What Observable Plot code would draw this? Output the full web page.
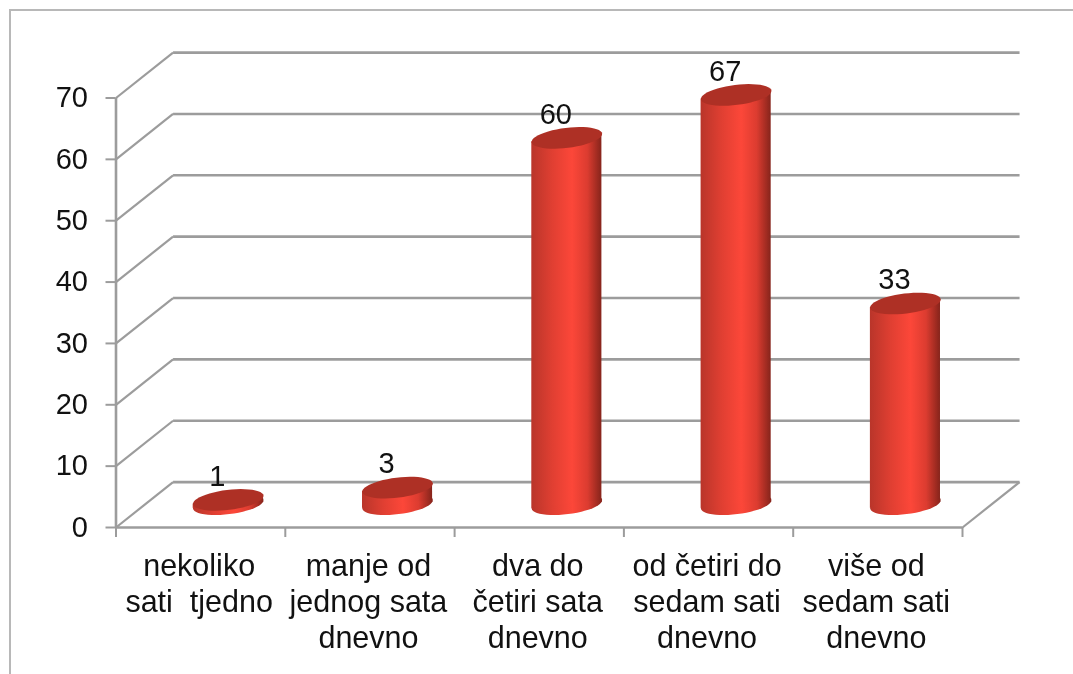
<!DOCTYPE html>
<html>
<head>
<meta charset="utf-8">
<script src="https://cdn.jsdelivr.net/npm/d3@7"></script>
<script src="https://cdn.jsdelivr.net/npm/@observablehq/plot@0.6"></script>
<style>
html,body{margin:0;padding:0;background:#fff;width:1073px;height:674px;overflow:hidden}
#frame{position:absolute;left:9px;top:9px;width:1064px;height:665px;border-left:2px solid #b8b8b8;border-top:2px solid #b8b8b8;box-sizing:border-box}
#chart{position:absolute;left:0;top:0}
#chart text{white-space:pre}
#chart svg{filter:blur(0.45px)}
</style>
</head>
<body>
<div id="frame"></div>
<div id="chart"></div>
<script>
const categories = [
  "nekoliko\nsati  tjedno",
  "manje od\njednog sata\ndnevno",
  "dva do\nčetiri sata\ndnevno",
  "od četiri do\nsedam sati\ndnevno",
  "više od\nsedam sati\ndnevno"
];
const values = [1, 3, 60, 67, 33];
const valueTicks = [0, 10, 20, 30, 40, 50, 60, 70];
const categoryEdges = [0, 1, 2, 3, 4, 5];

// Oblique projection of the chart's depth, in units of the two scales
const depthX = 0.337, depthY = 7.4;
const barHalf = 0.207, barOffset = 0.163;
const baseLift = 3.8, topLift = 3.5, tilt = 0.65;

const bars = values.map((v, i) => ({i, v, x: i + 0.5 + barOffset, base: baseLift, top: v + topLift}));
const sides = bars.flatMap(b => [
  {i: b.i, x: b.x - barHalf, y1: b.base - tilt, y2: b.top - tilt},
  {i: b.i, x: b.x + barHalf, y1: b.base + tilt, y2: b.top + tilt}
]);
const labelRows = values.map((v, i) => ({v, x: i + 0.5 + barOffset}));

const ellipse = {
  draw(ctx) {
    const a = 35.5, b = 10, t = -7 * Math.PI / 180;
    for (let k = 0; k < 48; ++k) {
      const u = k / 48 * 2 * Math.PI;
      const ex = a * Math.cos(u), ey = b * Math.sin(u);
      const px = ex * Math.cos(t) - ey * Math.sin(t);
      const py = ex * Math.sin(t) + ey * Math.cos(t);
      k ? ctx.lineTo(px, py) : ctx.moveTo(px, py);
    }
    ctx.closePath();
  }
};

const gridColor = "#9c9c9c";
const font = "'Liberation Sans', Arial, sans-serif";

const defs = () => {
  const s = d3.create("svg:defs");
  const g = s.append("linearGradient").attr("id", "cyl").attr("x1", 0).attr("x2", 1).attr("y1", 0).attr("y2", 0);
  [[0, "#b9352a"], [0.3, "#e03f32"], [0.58, "#fc4739"], [0.8, "#dc3c30"], [1, "#86241b"]]
    .forEach(([o, c]) => g.append("stop").attr("offset", o).attr("stop-color", c));
  return s.node();
};

const plot = Plot.plot({
  width: 1073,
  height: 674,
  marginLeft: 115.5,
  marginRight: 111,
  marginTop: 97.5,
  marginBottom: 147,
  style: {fontFamily: font, background: "transparent", overflow: "visible"},
  x: {domain: [0, 5]},
  y: {domain: [0, 70]},
  marks: [
    defs,
    // back wall grid
    Plot.link(valueTicks, {x1: depthX, x2: 5 + depthX, y1: v => v + depthY, y2: v => v + depthY, stroke: gridColor, strokeWidth: 2.6}),
    // side wall diagonals
    Plot.link(valueTicks, {x1: 0, x2: depthX, y1: v => v, y2: v => v + depthY, stroke: gridColor, strokeWidth: 2.2}),
    // floor right edge
    Plot.link([0], {x1: 5, x2: 5 + depthX, y1: 0, y2: depthY, stroke: gridColor, strokeWidth: 2.2}),
    // axes
    Plot.ruleX([0], {y1: 0, y2: 70, stroke: gridColor, strokeWidth: 2.6}),
    Plot.ruleY([0], {x1: 0, x2: 5, stroke: gridColor, strokeWidth: 2.6}),
    Plot.axisY(valueTicks, {anchor: "left", label: null, tickSize: 10, tickPadding: 18, fontSize: 29, stroke: gridColor, strokeWidth: 2, color: "#111"}),
    Plot.axisX(categoryEdges, {anchor: "bottom", label: null, tickSize: 10, tickFormat: () => "", stroke: gridColor, strokeWidth: 2}),
    // category labels
    Plot.text(categories, {x: (d, i) => i + 0.5, y: 0, text: d => d, dy: 23, dx: -1.5, lineAnchor: "top", lineHeight: 1.18, fontSize: 30.5, fill: "#111"}),
    // cylinders
    Plot.dot(bars, {x: "x", y: "base", symbol: ellipse, r: 1, fill: "url(#cyl)", stroke: "none"}),
    Plot.area(sides, {x1: "x", y1: "y1", y2: "y2", z: "i", fill: "url(#cyl)", curve: "linear"}),
    Plot.dot(bars, {x: "x", y: "top", symbol: ellipse, r: 1, fill: "#ae3025", stroke: "none"}),
    // value labels
    Plot.text(labelRows, {x: "x", y: "v", text: d => String(d.v), dx: -11, dy: -45, fontSize: 29, fill: "#111"})
  ]
});
document.getElementById("chart").append(plot);
</script>
</body>
</html>
